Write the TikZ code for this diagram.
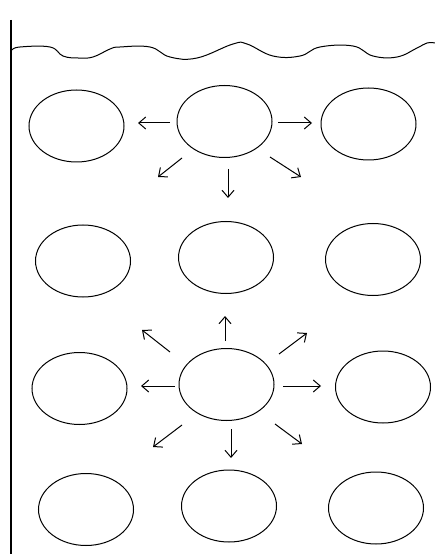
\documentclass[tikz,border=0pt]{standalone}
\usetikzlibrary{shapes.geometric,arrows.meta}
\begin{document}
\begin{tikzpicture}[x=1bp,y=-1bp,
  ell/.style={draw=black,line width=1bp,ellipse,inner sep=0pt,minimum width=95bp,minimum height=72bp},
  arr/.style={draw=black,line width=1bp,-{Straight Barb[length=7bp,width=12bp]}}]
\useasboundingbox[fill=white] (0,0) rectangle (435,554);
% left bar
\draw[line width=2.2bp] (11,20) -- (11,554);
% wavy surface
\draw[line width=1bp] plot[smooth,tension=0.7] coordinates {(12,50) (20,47) (50,47) (63,56) (78,58) (93,57) (110,49) (120,47) (150,47) (170,57) (197,58) (233,44) (247,44) (273,56) (300,56) (320,47) (353,46) (373,56) (397,57) (417,48) (427,43) (435,43)};
% row 1
\node[ell] (a1) at (76.5,126) {};
\node[ell] (a2) at (224.5,121.5) {};
\node[ell] (a3) at (368.5,124) {};
% row 2
\node[ell] (b1) at (83,261) {};
\node[ell] (b2) at (226,257.5) {};
\node[ell] (b3) at (373,259.5) {};
% row 3
\node[ell] (c1) at (79.5,388.5) {};
\node[ell] (c2) at (226.5,384.5) {};
\node[ell] (c3) at (383,387) {};
% row 4
\node[ell] (d1) at (86,509.5) {};
\node[ell] (d2) at (229,506) {};
\node[ell] (d3) at (376,508) {};
% arrows from a2
\coordinate (a2sL) at (170,123); \coordinate (a2eL) at (138,123);
\coordinate (a2sR) at (278,123); \coordinate (a2eR) at (312,123);
\coordinate (a2sDL) at (182,158); \coordinate (a2eDL) at (158,177);
\coordinate (a2sD) at (228,169); \coordinate (a2eD) at (228,198);
\coordinate (a2sDR) at (270,157); \coordinate (a2eDR) at (301,177);
\draw[arr] (a2sL) -- (a2eL);
\draw[arr] (a2sR) -- (a2eR);
\draw[arr] (a2sDL) -- (a2eDL);
\draw[arr] (a2sD) -- (a2eD);
\draw[arr] (a2sDR) -- (a2eDR);
% arrows from c2
\coordinate (c2sU) at (225,341); \coordinate (c2eU) at (225,316);
\coordinate (c2sUL) at (170,352); \coordinate (c2eUL) at (142,330);
\coordinate (c2sUR) at (279,354); \coordinate (c2eUR) at (307,333);
\coordinate (c2sL) at (175,386); \coordinate (c2eL) at (141,386);
\coordinate (c2sR) at (283,386); \coordinate (c2eR) at (321,386);
\coordinate (c2sDL) at (182,425); \coordinate (c2eDL) at (153,447);
\coordinate (c2sD) at (231,429); \coordinate (c2eD) at (231,458);
\coordinate (c2sDR) at (275,424); \coordinate (c2eDR) at (302,444);
\draw[arr] (c2sU) -- (c2eU);
\draw[arr] (c2sUL) -- (c2eUL);
\draw[arr] (c2sUR) -- (c2eUR);
\draw[arr] (c2sL) -- (c2eL);
\draw[arr] (c2sR) -- (c2eR);
\draw[arr] (c2sDL) -- (c2eDL);
\draw[arr] (c2sD) -- (c2eD);
\draw[arr] (c2sDR) -- (c2eDR);
\end{tikzpicture}
\end{document}
